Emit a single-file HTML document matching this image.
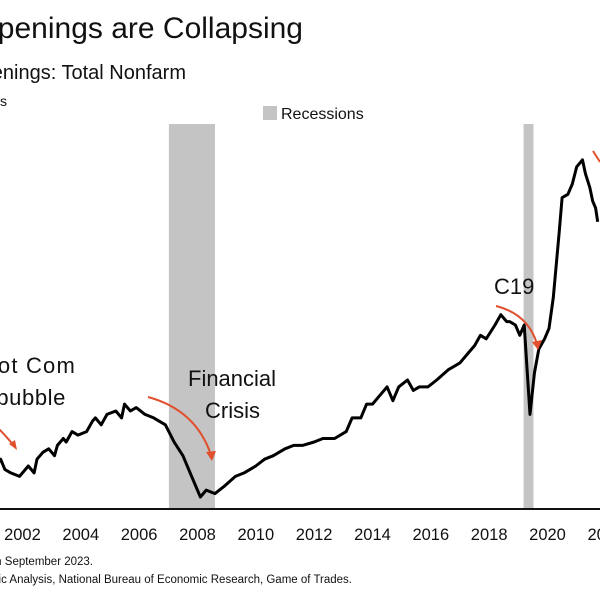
<!DOCTYPE html>
<html><head><meta charset="utf-8"><style>
html,body{margin:0;padding:0;background:#fff;}
svg{display:block;font-family:"Liberation Sans",sans-serif;}
</style></head><body>
<svg id="chart" width="600" height="600" viewBox="0 0 600 600">
<text x="303" y="38" font-size="30" text-anchor="end" fill="#111">Job Openings are Collapsing</text>
<text x="186" y="79" font-size="20" text-anchor="end" fill="#111">Job Openings: Total Nonfarm</text>
<text x="7" y="106" font-size="14" text-anchor="end" fill="#111">Millions</text>
<rect x="263" y="106" width="14" height="14" fill="#c4c4c4"/>
<text x="281" y="119" font-size="16" fill="#111">Recessions</text>
<g id="bands"></g>
<g id="ticks"></g>
<line x1="0" y1="509" x2="600" y2="509" stroke="#111" stroke-width="2"/>
<path id="series" fill="none" stroke="#000" stroke-width="3" stroke-linejoin="round"/>
<g fill="none" stroke="#e0502f" stroke-width="2">
<path d="M-2,428 Q8,438 14,446"/>
<path d="M148,397 Q196,410 211,455"/>
<path d="M496,306 Q528,314 537,344"/>
<path d="M593,151 L600,162"/>
</g>
<g fill="#e0502f">
<polygon points="9,444 17,450 15,440"/>
<polygon points="206,452 212,461 216,451"/>
<polygon points="532,342 538,350 542,340"/>
</g>
<g font-size="22" fill="#111">
<text x="76" y="373" text-anchor="end" letter-spacing="1.2">Dot Com</text>
<text x="66" y="405" text-anchor="end" letter-spacing="0.6">bubble</text>
<text x="188" y="386">Financial</text>
<text x="205" y="418">Crisis</text>
<text x="494" y="294">C19</text>
</g>
<text x="93" y="565" font-size="11.5" text-anchor="end" fill="#111">Note: Data through September 2023.</text>
<text x="352" y="583" font-size="11.5" text-anchor="end" fill="#111">Sources: Bureau of Labor Statistics, Bureau of Economic Analysis, National Bureau of Economic Research, Game of Trades.</text>
</svg>
<script>
const years = [2000.2,2000.7,2000.9,2001.2,2001.4,2001.6,2001.8,2002.0,2002.15,2002.3,2002.5,2002.8,2003.1,2003.3,2003.4,2003.6,2003.8,2004.0,2004.1,2004.3,2004.4,2004.6,2004.8,2005.1,2005.3,2005.4,2005.6,2005.8,2006.1,2006.3,2006.4,2006.6,2006.8,2007.1,2007.4,2007.8,2008.1,2008.4,2008.8,2009.0,2009.2,2009.5,2009.8,2010.2,2010.5,2010.9,2011.2,2011.5,2011.9,2012.2,2012.5,2012.9,2013.2,2013.6,2014.0,2014.2,2014.5,2014.7,2014.9,2015.2,2015.4,2015.6,2015.8,2016.1,2016.3,2016.5,2016.8,2017.1,2017.5,2017.7,2017.9,2018.2,2018.4,2018.6,2018.8,2019.1,2019.3,2019.5,2019.6,2019.8,2019.95,2020.1,2020.3,2020.45,2020.6,2020.8,2020.95,2021.1,2021.3,2021.4,2021.6,2021.75,2021.9,2022.1,2022.2,2022.35,2022.45,2022.55,2022.62];
const openings = [4.3,4.6,4.3,3.8,3.6,3.2,3.1,3.1,3.3,3.0,2.9,2.8,3.1,2.9,3.3,3.5,3.6,3.4,3.7,3.9,3.8,4.1,4.0,4.1,4.4,4.5,4.3,4.6,4.7,4.5,4.9,4.7,4.8,4.6,4.5,4.3,3.8,3.4,2.6,2.2,2.4,2.3,2.5,2.8,2.9,3.1,3.3,3.4,3.6,3.7,3.7,3.8,3.9,3.9,4.1,4.5,4.5,4.9,4.9,5.2,5.4,5.0,5.4,5.6,5.3,5.4,5.4,5.6,5.9,6.0,6.1,6.4,6.6,6.9,6.8,7.2,7.5,7.3,7.3,7.2,6.9,7.2,4.6,5.8,6.5,6.8,7.1,8.0,9.9,10.9,11.0,11.3,11.8,12.0,11.6,11.2,10.8,10.6,10.2];
const recessionStarts = [2007.92,2020.08];
const recessionEnds = [2009.5,2020.42];
const tickYears = [2002,2004,2006,2008,2010,2012,2014,2016,2018,2020,2022];
const tickLabels = ["2002","2004","2006","2008","2010","2012","2014","2016","2018","2020","2022"];

const NS='http://www.w3.org/2000/svg';
function xScale(t){return 530+29.17*(t-2020.3);}
function yScale(v){return 497-(v-2.2)*34.4;}

const bands=document.getElementById('bands');
recessionStarts.forEach(function(s,i){
  const r=document.createElementNS(NS,'rect');
  const x0=xScale(s), x1=xScale(recessionEnds[i]);
  r.setAttribute('x',x0);r.setAttribute('y',124);
  r.setAttribute('width',x1-x0);r.setAttribute('height',385);
  r.setAttribute('fill','#c4c4c4');
  
  
  bands.appendChild(r);
});

const ticks=document.getElementById('ticks');
tickYears.forEach(function(y,i){
  const t=document.createElementNS(NS,'text');
  t.setAttribute('x',xScale(y+0.9));t.setAttribute('y',540);
  t.setAttribute('font-size','16.5');t.setAttribute('text-anchor','middle');t.setAttribute('fill','#111');
  t.textContent=tickLabels[i];
  
  
  ticks.appendChild(t);
});

let d='';
years.forEach(function(t,i){d+=(i?'L':'M')+xScale(t).toFixed(1)+','+yScale(openings[i]).toFixed(1);});
document.getElementById('series').setAttribute('d',d);
</script>
</body></html>
